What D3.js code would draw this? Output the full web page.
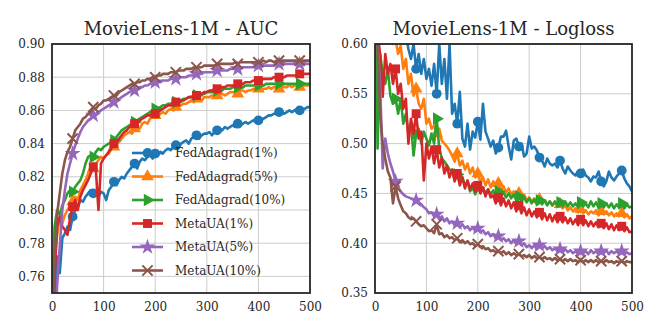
<!DOCTYPE html>
<html>
<head>
<meta charset="utf-8">
<script src="https://cdn.jsdelivr.net/npm/d3@7"></script>
<style>
  body { margin: 0; background: #fff; }
  svg { display: block; }
</style>
</head>
<body>
<svg id="chart" width="664" height="332"></svg>
<script>
// communication rounds, sampled every 5 rounds
const rounds = d3.range(0, 501, 5);

const seriesNames = ["FedAdagrad(1%)", "FedAdagrad(5%)", "FedAdagrad(10%)", "MetaUA(1%)", "MetaUA(5%)", "MetaUA(10%)"];

// AUC
const aucFed1 = [
  0.700, 0.740, 0.772, 0.762, 0.783, 0.786, 0.790, 0.788, 0.796, 0.800,
  0.802, 0.806, 0.805, 0.808, 0.810, 0.812, 0.810, 0.809, 0.808, 0.811,
  0.810, 0.806, 0.812, 0.814, 0.817, 0.815, 0.818, 0.820, 0.819, 0.822,
  0.824, 0.826, 0.828, 0.825, 0.829, 0.831, 0.830, 0.832, 0.833, 0.831,
  0.834, 0.833, 0.835, 0.834, 0.836, 0.837, 0.836, 0.838, 0.839, 0.837,
  0.840, 0.841, 0.842, 0.840, 0.843, 0.844, 0.845, 0.843, 0.845, 0.846,
  0.846, 0.847, 0.845, 0.847, 0.848, 0.849, 0.848, 0.850, 0.849, 0.850,
  0.851, 0.850, 0.852, 0.851, 0.852, 0.853, 0.852, 0.853, 0.854, 0.853,
  0.854, 0.855, 0.855, 0.856, 0.857, 0.857, 0.858, 0.858, 0.859, 0.859,
  0.858, 0.859, 0.860, 0.859, 0.860, 0.861, 0.860, 0.861, 0.861, 0.862,
  0.862];
const aucFed5 = [
  0.720, 0.770, 0.785, 0.795, 0.792, 0.797, 0.800, 0.803, 0.805, 0.808,
  0.806, 0.812, 0.815, 0.818, 0.822, 0.826, 0.825, 0.828, 0.830, 0.832,
  0.831, 0.833, 0.834, 0.837, 0.838, 0.840, 0.841, 0.843, 0.845, 0.846,
  0.847, 0.846, 0.849, 0.850, 0.849, 0.852, 0.853, 0.852, 0.855, 0.856,
  0.857, 0.856, 0.858, 0.859, 0.858, 0.860, 0.861, 0.860, 0.862, 0.863,
  0.863, 0.864, 0.864, 0.865, 0.866, 0.865, 0.867, 0.867, 0.866, 0.868,
  0.868, 0.868, 0.869, 0.868, 0.869, 0.870, 0.870, 0.869, 0.870, 0.871,
  0.871, 0.871, 0.870, 0.872, 0.872, 0.871, 0.872, 0.872, 0.873, 0.873,
  0.873, 0.872, 0.873, 0.873, 0.874, 0.873, 0.874, 0.874, 0.873, 0.874,
  0.874, 0.874, 0.875, 0.874, 0.875, 0.875, 0.874, 0.875, 0.875, 0.875,
  0.875];
const aucFed10 = [
  0.740, 0.790, 0.800, 0.797, 0.803, 0.806, 0.810, 0.812, 0.811, 0.814,
  0.816, 0.818, 0.822, 0.828, 0.832, 0.833, 0.832, 0.835, 0.837, 0.836,
  0.838, 0.839, 0.840, 0.841, 0.842, 0.844, 0.846, 0.848, 0.849, 0.850,
  0.851, 0.852, 0.853, 0.854, 0.855, 0.856, 0.857, 0.858, 0.859, 0.860,
  0.861, 0.861, 0.862, 0.863, 0.863, 0.864, 0.864, 0.865, 0.865, 0.866,
  0.866, 0.867, 0.867, 0.868, 0.868, 0.869, 0.869, 0.870, 0.870, 0.870,
  0.871, 0.871, 0.871, 0.872, 0.872, 0.872, 0.873, 0.873, 0.873, 0.873,
  0.874, 0.874, 0.874, 0.874, 0.874, 0.875, 0.875, 0.875, 0.875, 0.875,
  0.875, 0.875, 0.875, 0.876, 0.876, 0.876, 0.876, 0.876, 0.876, 0.876,
  0.876, 0.876, 0.876, 0.876, 0.876, 0.876, 0.876, 0.876, 0.876, 0.876,
  0.876];
const aucMeta1 = [
  0.700, 0.760, 0.790, 0.796, 0.790, 0.788, 0.785, 0.795, 0.802, 0.806,
  0.800, 0.808, 0.812, 0.815, 0.818, 0.822, 0.826, 0.824, 0.800, 0.828,
  0.831, 0.833, 0.835, 0.837, 0.840, 0.841, 0.843, 0.845, 0.847, 0.848,
  0.850, 0.851, 0.852, 0.853, 0.854, 0.855, 0.856, 0.857, 0.857, 0.858,
  0.858, 0.859, 0.860, 0.861, 0.862, 0.863, 0.863, 0.864, 0.865, 0.865,
  0.866, 0.866, 0.867, 0.868, 0.868, 0.869, 0.869, 0.870, 0.870, 0.871,
  0.871, 0.872, 0.872, 0.873, 0.873, 0.873, 0.874, 0.874, 0.875, 0.875,
  0.875, 0.875, 0.876, 0.876, 0.876, 0.877, 0.877, 0.877, 0.878, 0.878,
  0.878, 0.878, 0.879, 0.879, 0.879, 0.879, 0.880, 0.880, 0.880, 0.880,
  0.880, 0.881, 0.881, 0.881, 0.881, 0.881, 0.882, 0.882, 0.882, 0.882,
  0.882];
const aucMeta5 = [
  0.690, 0.720, 0.755, 0.778, 0.800, 0.812, 0.822, 0.828, 0.834, 0.839,
  0.843, 0.847, 0.850, 0.852, 0.854, 0.855, 0.857, 0.858, 0.859, 0.860,
  0.861, 0.862, 0.863, 0.864, 0.865, 0.866, 0.867, 0.868, 0.869, 0.870,
  0.871, 0.872, 0.872, 0.873, 0.874, 0.874, 0.875, 0.875, 0.876, 0.876,
  0.877, 0.877, 0.877, 0.878, 0.878, 0.878, 0.879, 0.879, 0.879, 0.879,
  0.880, 0.880, 0.880, 0.881, 0.881, 0.881, 0.882, 0.882, 0.882, 0.883,
  0.883, 0.883, 0.883, 0.883, 0.884, 0.884, 0.884, 0.884, 0.884, 0.885,
  0.885, 0.885, 0.885, 0.885, 0.886, 0.886, 0.886, 0.886, 0.886, 0.886,
  0.887, 0.887, 0.887, 0.887, 0.887, 0.887, 0.887, 0.888, 0.888, 0.888,
  0.888, 0.888, 0.888, 0.888, 0.888, 0.888, 0.888, 0.888, 0.888, 0.888,
  0.888];
const aucMeta10 = [
  0.700, 0.770, 0.798, 0.810, 0.822, 0.830, 0.835, 0.838, 0.843, 0.848,
  0.850, 0.852, 0.855, 0.856, 0.858, 0.859, 0.862, 0.861, 0.863, 0.864,
  0.866, 0.866, 0.867, 0.868, 0.869, 0.869, 0.871, 0.872, 0.873, 0.874,
  0.875, 0.876, 0.876, 0.877, 0.877, 0.878, 0.878, 0.879, 0.879, 0.880,
  0.880, 0.881, 0.881, 0.882, 0.882, 0.882, 0.883, 0.883, 0.883, 0.884,
  0.884, 0.884, 0.885, 0.885, 0.885, 0.886, 0.886, 0.886, 0.886, 0.887,
  0.887, 0.887, 0.887, 0.887, 0.888, 0.888, 0.888, 0.888, 0.888, 0.888,
  0.888, 0.889, 0.888, 0.889, 0.889, 0.889, 0.889, 0.889, 0.889, 0.889,
  0.889, 0.889, 0.890, 0.889, 0.890, 0.890, 0.889, 0.890, 0.890, 0.890,
  0.890, 0.890, 0.890, 0.890, 0.890, 0.890, 0.890, 0.890, 0.890, 0.890,
  0.890];

// Logloss
const llFed1 = [
  0.750, 0.720, 0.700, 0.690, 0.680, 0.670, 0.660, 0.650, 0.645, 0.640,
  0.630, 0.620, 0.610, 0.595, 0.585, 0.600, 0.575, 0.590, 0.570, 0.585,
  0.565, 0.575, 0.558, 0.580, 0.550, 0.600, 0.560, 0.585, 0.545, 0.600,
  0.530, 0.540, 0.520, 0.552, 0.505, 0.497, 0.520, 0.494, 0.512, 0.506,
  0.522, 0.504, 0.540, 0.512, 0.505, 0.497, 0.503, 0.490, 0.496, 0.507,
  0.507, 0.513, 0.497, 0.484, 0.503, 0.505, 0.497, 0.500, 0.487, 0.490,
  0.507, 0.495, 0.497, 0.493, 0.486, 0.483, 0.477, 0.485, 0.480, 0.478,
  0.480, 0.476, 0.483, 0.475, 0.470, 0.477, 0.473, 0.470, 0.468, 0.472,
  0.470, 0.474, 0.468, 0.466, 0.462, 0.467, 0.466, 0.472, 0.462, 0.457,
  0.462, 0.472, 0.466, 0.463, 0.467, 0.470, 0.473, 0.465, 0.460, 0.457,
  0.452];
const llFed5 = [
  0.700, 0.650, 0.630, 0.620, 0.615, 0.605, 0.610, 0.600, 0.605, 0.590,
  0.598, 0.575, 0.585, 0.560, 0.570, 0.548, 0.555, 0.540, 0.535, 0.545,
  0.520, 0.525, 0.515, 0.518, 0.510, 0.515, 0.503, 0.500, 0.497, 0.493,
  0.488, 0.482, 0.490, 0.478, 0.483, 0.474, 0.480, 0.470, 0.476, 0.466,
  0.470, 0.462, 0.466, 0.458, 0.464, 0.456, 0.462, 0.458, 0.460, 0.453,
  0.457, 0.451, 0.455, 0.449, 0.452, 0.447, 0.450, 0.444, 0.449, 0.443,
  0.446, 0.442, 0.445, 0.441, 0.444, 0.440, 0.443, 0.439, 0.442, 0.438,
  0.441, 0.437, 0.439, 0.435, 0.438, 0.433, 0.436, 0.432, 0.435, 0.431,
  0.434, 0.430, 0.433, 0.429, 0.432, 0.430, 0.433, 0.428, 0.432, 0.429,
  0.432, 0.428, 0.431, 0.427, 0.430, 0.427, 0.430, 0.426, 0.429, 0.425,
  0.427];
const llFed10 = [
  0.700, 0.495, 0.590, 0.570, 0.560, 0.575, 0.548, 0.540, 0.545, 0.530,
  0.545, 0.520, 0.530, 0.510, 0.520, 0.488, 0.510, 0.515, 0.500, 0.512,
  0.505, 0.498, 0.510, 0.500, 0.525, 0.495, 0.485, 0.482, 0.478, 0.474,
  0.472, 0.465, 0.469, 0.462, 0.466, 0.458, 0.462, 0.452, 0.456, 0.449,
  0.456, 0.451, 0.455, 0.450, 0.454, 0.449, 0.453, 0.448, 0.452, 0.447,
  0.451, 0.446, 0.450, 0.445, 0.449, 0.443, 0.447, 0.442, 0.446, 0.441,
  0.445, 0.440, 0.444, 0.439, 0.443, 0.439, 0.443, 0.438, 0.442, 0.438,
  0.442, 0.438, 0.441, 0.437, 0.442, 0.437, 0.441, 0.437, 0.440, 0.436,
  0.441, 0.437, 0.440, 0.436, 0.442, 0.437, 0.441, 0.436, 0.440, 0.436,
  0.440, 0.436, 0.440, 0.435, 0.439, 0.436, 0.440, 0.435, 0.439, 0.436,
  0.437];
const llMeta1 = [
  0.700, 0.610, 0.590, 0.547, 0.590, 0.570, 0.580, 0.560, 0.575, 0.550,
  0.560, 0.535, 0.545, 0.500, 0.525, 0.510, 0.530, 0.505, 0.512, 0.463,
  0.500, 0.485, 0.497, 0.480, 0.494, 0.476, 0.486, 0.470, 0.478, 0.466,
  0.474, 0.462, 0.470, 0.458, 0.466, 0.455, 0.463, 0.454, 0.460, 0.452,
  0.458, 0.450, 0.456, 0.447, 0.454, 0.446, 0.448, 0.440, 0.446, 0.438,
  0.445, 0.437, 0.443, 0.435, 0.441, 0.432, 0.438, 0.430, 0.436, 0.428,
  0.434, 0.427, 0.432, 0.426, 0.431, 0.424, 0.430, 0.423, 0.429, 0.422,
  0.428, 0.421, 0.427, 0.421, 0.426, 0.420, 0.425, 0.419, 0.424, 0.418,
  0.424, 0.418, 0.423, 0.417, 0.422, 0.417, 0.421, 0.416, 0.420, 0.415,
  0.420, 0.414, 0.419, 0.413, 0.418, 0.413, 0.417, 0.412, 0.416, 0.411,
  0.412];
const llMeta5 = [
  0.700, 0.600, 0.560, 0.475, 0.505, 0.490, 0.480, 0.472, 0.462, 0.456,
  0.452, 0.449, 0.447, 0.446, 0.445, 0.444, 0.443, 0.441, 0.439, 0.436,
  0.434, 0.430, 0.431, 0.427, 0.429, 0.424, 0.427, 0.422, 0.425, 0.420,
  0.422, 0.418, 0.420, 0.416, 0.419, 0.415, 0.417, 0.413, 0.416, 0.412,
  0.415, 0.411, 0.413, 0.409, 0.411, 0.407, 0.409, 0.405, 0.407, 0.403,
  0.405, 0.402, 0.404, 0.400, 0.403, 0.399, 0.402, 0.398, 0.400, 0.396,
  0.398, 0.395, 0.398, 0.394, 0.398, 0.395, 0.397, 0.394, 0.396, 0.393,
  0.395, 0.392, 0.394, 0.391, 0.394, 0.391, 0.393, 0.390, 0.392, 0.389,
  0.392, 0.390, 0.392, 0.389, 0.393, 0.390, 0.392, 0.389, 0.392, 0.390,
  0.393, 0.389, 0.392, 0.390, 0.392, 0.389, 0.392, 0.389, 0.391, 0.389,
  0.390];
const llMeta10 = [
  0.700, 0.600, 0.530, 0.500, 0.485, 0.472, 0.466, 0.440, 0.457, 0.445,
  0.438, 0.432, 0.430, 0.426, 0.424, 0.425, 0.422, 0.419, 0.417, 0.418,
  0.415, 0.412, 0.413, 0.410, 0.419, 0.409, 0.410, 0.406, 0.408, 0.405,
  0.406, 0.403, 0.405, 0.401, 0.403, 0.400, 0.402, 0.399, 0.400, 0.397,
  0.399, 0.396, 0.397, 0.394, 0.395, 0.392, 0.393, 0.391, 0.392, 0.390,
  0.392, 0.389, 0.391, 0.388, 0.390, 0.388, 0.389, 0.387, 0.388, 0.386,
  0.388, 0.385, 0.387, 0.385, 0.386, 0.384, 0.386, 0.384, 0.385, 0.383,
  0.385, 0.383, 0.384, 0.382, 0.384, 0.382, 0.384, 0.382, 0.383, 0.381,
  0.383, 0.381, 0.383, 0.381, 0.383, 0.381, 0.383, 0.381, 0.382, 0.381,
  0.383, 0.381, 0.382, 0.380, 0.382, 0.381, 0.382, 0.380, 0.382, 0.381,
  0.381];

const xTicks = [0, 100, 200, 300, 400, 500];
const aucTicks = [0.76, 0.78, 0.80, 0.82, 0.84, 0.86, 0.88, 0.90];
const llTicks = [0.35, 0.40, 0.45, 0.50, 0.55, 0.60];

const colors = ["#1f77b4", "#ff7f0e", "#2ca02c", "#d62728", "#9467bd", "#8c564b"];
const markerEvery = 8; // one marker every 40 rounds

const font = "'DejaVu Serif', 'Liberation Serif', serif";
const svg = d3.select("#chart");

// marker shapes, same order as the series
function markerPath(i) {
    const shapes = [
        d3.symbol(d3.symbolCircle, 75),
        d3.symbol(d3.symbolTriangle, 70),
        d3.symbol(d3.symbolTriangle, 70),
        d3.symbol(d3.symbolSquare, 80),
        d3.symbol(d3.symbolStar, 80),
        d3.symbol(d3.symbolTimes, 70)
    ];
    return shapes[i]();
}
function markerRotate(i) {
    return i === 2 ? " rotate(90)" : "";
}

function drawMarker(g, i, x, y) {
    const p = g.append("path")
        .attr("d", markerPath(i))
        .attr("transform", "translate(" + x + "," + y + ")" + markerRotate(i));
    if (i === 5) {
        p.attr("fill", "none").attr("stroke", colors[i]).attr("stroke-width", 2);
    } else {
        p.attr("fill", colors[i]);
    }
}

function panel(opts) {
    const x = d3.scaleLinear().domain([0, 500]).range([opts.left, opts.right]);
    const y = d3.scaleLinear().domain(opts.yDomain).range([opts.bottom, opts.top]);
    const g = svg.append("g");

    // grid
    g.append("g")
        .selectAll("line.gx")
        .data(xTicks.slice(1, -1))
        .join("line")
            .attr("x1", d => x(d)).attr("x2", d => x(d))
            .attr("y1", opts.top).attr("y2", opts.bottom)
            .attr("stroke", "#cccccc").attr("stroke-width", 1);
    g.append("g")
        .selectAll("line.gy")
        .data(opts.yTicks)
        .join("line")
            .attr("x1", opts.left).attr("x2", opts.right)
            .attr("y1", d => y(d)).attr("y2", d => y(d))
            .attr("stroke", "#cccccc").attr("stroke-width", 1);

    // axes labels (no tick marks)
    const xAxis = g.append("g")
        .attr("transform", "translate(0," + opts.bottom + ")")
        .call(d3.axisBottom(x).tickValues(xTicks).tickSize(0).tickPadding(9));
    const yAxis = g.append("g")
        .attr("transform", "translate(" + opts.left + ",0)")
        .call(d3.axisLeft(y).tickValues(opts.yTicks).tickSize(0).tickPadding(7).tickFormat(d3.format(".2f")));
    [xAxis, yAxis].forEach(a => {
        a.select(".domain").remove();
        a.selectAll("text")
            .style("font-family", font)
            .style("font-size", "12px")
            .attr("fill", "#262626");
    });

    // curves, clipped to the plot area
    const clipId = "clip-" + opts.id;
    svg.append("clipPath").attr("id", clipId)
        .append("rect")
        .attr("x", opts.left).attr("y", opts.top)
        .attr("width", opts.right - opts.left).attr("height", opts.bottom - opts.top);
    const plot = g.append("g").attr("clip-path", "url(#" + clipId + ")");

    const line = d3.line()
        .x((d, i) => x(rounds[i]))
        .y(d => y(d));

    opts.series.forEach((values, i) => {
        plot.append("path")
            .datum(values)
            .attr("d", line)
            .attr("fill", "none")
            .attr("stroke", colors[i])
            .attr("stroke-width", 2.6)
            .attr("stroke-linejoin", "round");
        const mg = plot.append("g");
        values.forEach((v, j) => {
            if (j % markerEvery === 0) drawMarker(mg, i, x(rounds[j]), y(v));
        });
    });

    // frame
    g.append("rect")
        .attr("x", opts.left).attr("y", opts.top)
        .attr("width", opts.right - opts.left).attr("height", opts.bottom - opts.top)
        .attr("fill", "none")
        .attr("stroke", "#262626")
        .attr("stroke-width", 1.8);

    // title
    g.append("text")
        .attr("x", (opts.left + opts.right) / 2)
        .attr("y", opts.top - 9)
        .attr("text-anchor", "middle")
        .style("font-family", font)
        .style("font-size", "18px")
        .attr("fill", "#262626")
        .text(opts.title);

    return g;
}

const left = panel({
    id: "auc", title: "MovieLens-1M - AUC",
    left: 52, right: 310, top: 44, bottom: 293,
    yDomain: [0.75, 0.90], yTicks: aucTicks,
    series: [aucFed1, aucFed5, aucFed10, aucMeta1, aucMeta5, aucMeta10]
});

panel({
    id: "ll", title: "MovieLens-1M - Logloss",
    left: 375, right: 632, top: 44, bottom: 293,
    yDomain: [0.35, 0.60], yTicks: llTicks,
    series: [llFed1, llFed5, llFed10, llMeta1, llMeta5, llMeta10]
});

// legend (no frame, sits inside the AUC panel)
const legend = left.append("g");
seriesNames.forEach((name, i) => {
    const ly = 153 + i * 23.5;
    legend.append("line")
        .attr("x1", 132).attr("x2", 163)
        .attr("y1", ly).attr("y2", ly)
        .attr("stroke", colors[i]).attr("stroke-width", 2.6);
    drawMarker(legend, i, 147.5, ly);
    legend.append("text")
        .attr("x", 175).attr("y", ly)
        .attr("dy", "0.35em")
        .style("font-family", font)
        .style("font-size", "12px")
        .attr("fill", "#262626")
        .text(name);
});
</script>
</body>
</html>
